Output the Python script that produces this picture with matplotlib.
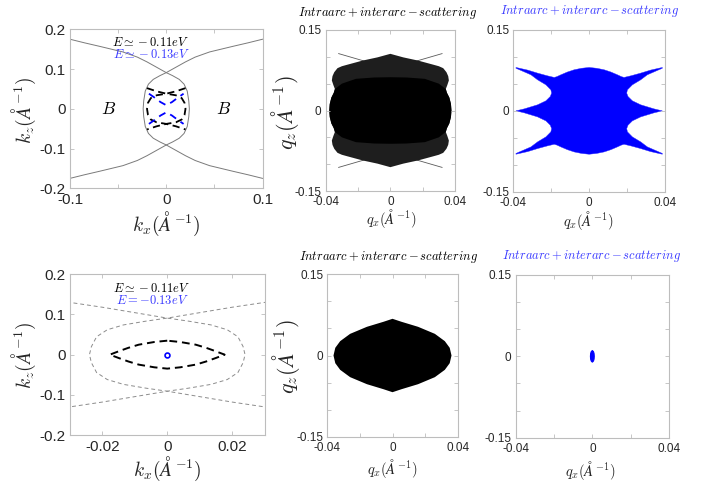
import numpy as np
import matplotlib
matplotlib.use("Agg")
import matplotlib.pyplot as plt

plt.rcParams['mathtext.fontset'] = 'cm'
plt.rcParams['font.family'] = ['Liberation Sans', 'DejaVu Sans']

W, H = 716, 483

# ---------------- data ----------------
# outer Fermi-arc curve (kz >= 0 half of the curve opening to the left)
ARC_KX = [0.0240, 0.0234, 0.0218, 0.0185, 0.0135, 0.0065, 0.0, -0.010, -0.020, -0.030,
          -0.045, -0.069, -0.085, -0.100]
ARC_KZ = [0.0, 0.020, 0.0445, 0.062, 0.074, 0.0835, 0.091, 0.1045, 0.118, 0.130,
          0.143, 0.157, 0.166, 0.175]
# E ~ -0.11 eV contour, top panel (black dashed)
BK1_KX = [0.0200, 0.0190, 0.0160, 0.0100, 0.0, -0.0100, -0.0200]
BK1_KZ = [0.0, 0.015, 0.027, 0.034, 0.038, 0.044, 0.052]
# E ~ -0.13 eV contour, top panel (blue dashed, V shaped)
BL1_KX = [-0.018, -0.012, -0.006, 0.0, 0.006, 0.012, 0.018]
BL1_KZ = [0.038, 0.028, 0.017, 0.009, 0.017, 0.028, 0.038]
# E ~ -0.11 eV contour, bottom panel (black dashed lens, one quadrant)
BK4_KX = [0.0177, 0.0150, 0.0120, 0.0088, 0.0040, 0.0]
BK4_KZ = [0.0, 0.0083, 0.0170, 0.0248, 0.0315, 0.0348]
# E = -0.13 eV contour, bottom panel (tiny pocket)
BL4_KX = [0.0]
BL4_KZ = [0.0]

# panel 2: scattering pattern outline (upper-left quadrant, left tip -> top centre)
P2_OUT_QX = [-0.0378, -0.0375, -0.0365, -0.0350, -0.0343, -0.0352, -0.0362, -0.0358,
             -0.0347, -0.0327, -0.0300, -0.0270, -0.0172, -0.0080, 0.0]
P2_OUT_QZ = [0.0, 0.012, 0.024, 0.033, 0.040, 0.047, 0.056, 0.064,
             0.0714, 0.0789, 0.0825, 0.0850, 0.0930, 0.0990, 0.1056]
# inner dense body boundary (notch -> top centre)
P2_BODY_QX = [-0.0300, -0.0213, -0.0100, 0.0]
P2_BODY_QZ = [0.050, 0.059, 0.0615, 0.062]
P2_LINE_QX = [-0.032, 0.0]
P2_LINE_QZ = [0.106, 0.078]

# panel 3: blue scattering pattern outline (upper-left quadrant, top centre -> left tip)
P3_QX = [0.0, -0.0040, -0.0079, -0.0115, -0.0149, -0.0170, -0.0184, -0.0220, -0.0272,
         -0.0324, -0.0386, -0.0386, -0.0307, -0.0272, -0.0228, -0.0202, -0.0198,
         -0.0205, -0.0228, -0.0272, -0.0342, -0.0386]
P3_QZ = [0.0805, 0.0790, 0.0762, 0.0720, 0.0669, 0.0635, 0.0620, 0.0650, 0.0700,
         0.0756, 0.0805, 0.0790, 0.0669, 0.0576, 0.0483, 0.0390, 0.0330,
         0.0266, 0.0186, 0.0112, 0.0037, 0.0]

# panel 5: black lens (upper-left quadrant)
P5_QX = [-0.0362, -0.0351, -0.0321, -0.0260, -0.0157, -0.0055, 0.0]
P5_QZ = [0.0, 0.0142, 0.0265, 0.0400, 0.0530, 0.0623, 0.0678]

# panel 6: small blue pocket (upper-left quadrant)
P6_QX = [-0.0010, -0.0009, -0.0006, 0.0]
P6_QZ = [0.0, 0.0050, 0.0085, 0.0108]

TITLE = r'$Intraarc + interarc - scattering$'

FRAME = '#bdbdbd'
TXT = '#262626'


def quad_closed(qx, qz):
    """mirror an upper-left quadrant path into a closed symmetric outline"""
    qx = np.asarray(qx, float); qz = np.asarray(qz, float)
    if qx[0] != 0:  # path given from left tip to top
        qx = qx[::-1]; qz = qz[::-1]
    x = np.concatenate([qx, qx[::-1], -qx, -qx[::-1]])
    z = np.concatenate([qz, -qz[::-1], -qz, qz[::-1]])
    return x, z


def branch_full(kx, kz):
    kx = np.asarray(kx, float); kz = np.asarray(kz, float)
    x = np.concatenate([kx[::-1], kx[1:]])
    z = np.concatenate([kz[::-1], -kz[1:]])
    return x, z


def make_ax(l, t, r, b):
    ax = fig.add_axes([l / W, 1 - b / H, (r - l) / W, (b - t) / H])
    for s in ax.spines.values():
        s.set_color(FRAME)
        s.set_linewidth(0.8)
    ax.tick_params(direction='in', length=3, width=0.6, color=FRAME,
                   top=True, right=True, labelcolor=TXT)
    ax.tick_params(axis='x', pad=3.5)
    ax.tick_params(axis='y', pad=3)
    return ax


def ftext(x, y, s, **kw):
    fig.text(x / W, 1 - y / H, s, ha='center', va='center', **kw)


def q_ticks(ax):
    ax.set_xlim(-0.04, 0.04); ax.set_ylim(-0.15, 0.15)
    ax.set_xticks([-0.04, -0.02, 0, 0.02, 0.04])
    ax.set_xticklabels(['-0.04', '', '0', '', '0.04'])
    ax.set_yticks([-0.15, -0.1, -0.05, 0, 0.05, 0.1, 0.15])
    ax.set_yticklabels(['-0.15', '', '', '0', '', '', '0.15'])
    ax.tick_params(labelsize=8.5)


fig = plt.figure(figsize=(W / 100, H / 100), dpi=100)

# ---------------- panel 1 ----------------
ax1 = make_ax(70, 29.3, 262.5, 188.3)
ax1.set_xlim(-0.1, 0.1); ax1.set_ylim(-0.2, 0.2)
x, z = branch_full(ARC_KX, ARC_KZ)
ax1.plot(x, z, color='#7a7a7a', lw=0.7)
ax1.plot(-x, z, color='#7a7a7a', lw=0.7)
x, z = branch_full(BK1_KX, BK1_KZ)
ax1.plot(x, z, color='k', lw=1.3, ls=(0, (4, 2.5)))
ax1.plot(-x, z, color='k', lw=1.3, ls=(0, (4, 2.5)))
ax1.plot(BL1_KX, BL1_KZ, color='#0000ff', lw=1.3, ls=(0, (4, 3)))
ax1.plot(BL1_KX, -np.asarray(BL1_KZ), color='#0000ff', lw=1.3, ls=(0, (4, 3)))
ax1.text(-0.06, 0, r'$B$', fontsize=12.5, ha='center', va='center')
ax1.text(0.06, 0, r'$B$', fontsize=12.5, ha='center', va='center')
ax1.set_xticks([-0.1, -0.05, 0, 0.05, 0.1])
ax1.set_xticklabels(['-0.1', '', '0', '', '0.1'])
ax1.set_yticks([-0.2, -0.1, 0, 0.1, 0.2])
ax1.set_yticklabels(['-0.2', '-0.1', '0', '0.1', '0.2'])
ax1.tick_params(labelsize=11)
ftext(151, 42.5, r'$E \simeq -0.11eV$', fontsize=9, color='k')
ftext(152, 55, r'$E \simeq -0.13eV$', fontsize=9, color='#3a3aff')
ftext(166, 224, r'$k_x(\AA^{-1})$', fontsize=14, color=TXT)
ftext(24, 110, r'$k_z(\AA^{-1})$', fontsize=14, color=TXT, rotation=90)

# ---------------- panel 2 ----------------
ax2 = make_ax(325.7, 30, 455, 191)
q_ticks(ax2)
for sx in (1, -1):
    for sz in (1, -1):
        ax2.plot(sx * np.asarray(P2_LINE_QX), sz * np.asarray(P2_LINE_QZ),
                 color='#5a5a5a', lw=0.6, zorder=0.5)
x, z = quad_closed(P2_OUT_QX, P2_OUT_QZ)
ax2.fill(x, z, color='#1e1e1e', lw=0, zorder=1)
bx = np.concatenate([P2_OUT_QX[:5], P2_BODY_QX])
bz = np.concatenate([P2_OUT_QZ[:5], P2_BODY_QZ])
x, z = quad_closed(bx, bz)
ax2.fill(x, z, color='#000000', lw=0, zorder=1.1)
ftext(388, 13, TITLE, fontsize=9, color='k')
ftext(391, 218, r'$q_x(\AA^{-1})$', fontsize=10.5, color=TXT)
ftext(285, 113, r'$q_z(\AA^{-1})$', fontsize=16, color=TXT, rotation=90)

# ---------------- panel 3 ----------------
ax3 = make_ax(513.3, 30, 665, 191.7)
q_ticks(ax3)
x, z = quad_closed(P3_QX, P3_QZ)
ax3.fill(x, z, color='#0000ff', lw=0.3, ec='#2a2aff')
ftext(590, 11, TITLE, fontsize=9, color='#3a3aff')
ftext(588, 220, r'$q_x(\AA^{-1})$', fontsize=10.5, color=TXT)

# ---------------- panel 4 ----------------
ax4 = make_ax(70, 274.3, 264.5, 435)
ax4.set_xlim(-0.03, 0.03); ax4.set_ylim(-0.2, 0.2)
x, z = branch_full(ARC_KX, ARC_KZ)
ax4.plot(x, z, color='#8c8c8c', lw=0.7, ls=(0, (4, 3)))
ax4.plot(-x, z, color='#8c8c8c', lw=0.7, ls=(0, (4, 3)))
x, z = quad_closed(-np.asarray(BK4_KX), BK4_KZ)
ax4.plot(x, z, color='k', lw=1.4, ls=(0, (4, 2.5)))
ax4.plot(BL4_KX, BL4_KZ, 'o', mfc='none', mec='#0000ff', mew=1.2, ms=3.5)
ax4.set_xticks([-0.02, 0, 0.02])
ax4.set_xticklabels(['-0.02', '0', '0.02'])
ax4.set_yticks([-0.2, -0.1, 0, 0.1, 0.2])
ax4.set_yticklabels(['-0.2', '-0.1', '0', '0.1', '0.2'])
ax4.tick_params(labelsize=11)
ftext(151.5, 288, r'$E \simeq -0.11eV$', fontsize=9, color='k')
ftext(152.5, 300.5, r'$E = -0.13eV$', fontsize=9, color='#3a3aff')
ftext(167, 469, r'$k_x(\AA^{-1})$', fontsize=14, color=TXT)
ftext(24, 355, r'$k_z(\AA^{-1})$', fontsize=14, color=TXT, rotation=90)

# ---------------- panel 5 ----------------
ax5 = make_ax(327.3, 274.3, 457.7, 436.7)
q_ticks(ax5)
x, z = quad_closed(P5_QX, P5_QZ)
ax5.fill(x, z, color='k', lw=0)
ftext(389, 257, TITLE, fontsize=9, color='k')
ftext(392, 468, r'$q_x(\AA^{-1})$', fontsize=10.5, color=TXT)
ftext(286, 357, r'$q_z(\AA^{-1})$', fontsize=16, color=TXT, rotation=90)

# ---------------- panel 6 ----------------
ax6 = make_ax(515.7, 275, 669, 437.7)
q_ticks(ax6)
x, z = quad_closed(P6_QX, P6_QZ)
ax6.fill(x, z, color='#0000ff', lw=0.8, ec='#0000ff')
ftext(592, 256, TITLE, fontsize=9, color='#3a3aff')
ftext(590, 470, r'$q_x(\AA^{-1})$', fontsize=10.5, color=TXT)

fig.savefig('out.png', dpi=100)
